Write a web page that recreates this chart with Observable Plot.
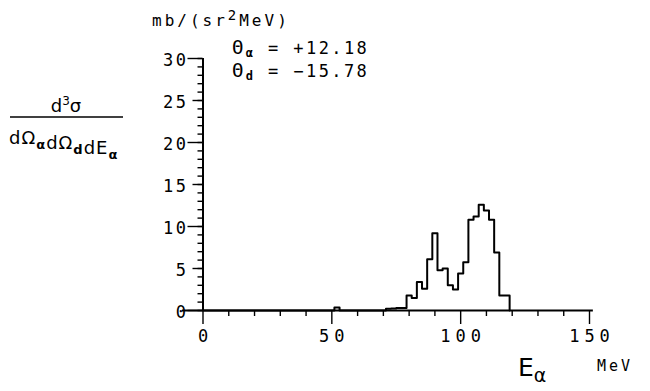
<!DOCTYPE html>
<html><head><meta charset="utf-8">
<script src="https://cdn.jsdelivr.net/npm/d3@7"></script>
<script src="https://cdn.jsdelivr.net/npm/@observablehq/plot@0.6"></script>
<style>body{margin:0;background:#fff} svg{display:block}</style>
</head><body><div id="chart"></div>
<script>
// Histogram: lower bin edges (MeV) and cross sections (mb/(sr^2 MeV))
const binLo  = [0, 51, 53, 71, 73, 75, 77, 79, 81, 83, 85, 87, 89, 91, 93, 95, 97, 99, 101, 103, 105, 107, 109, 111, 113, 115, 117, 119];
const counts = [0, 0.35, 0, 0.2, 0.25, 0.3, 0.3, 1.8, 1.5, 3.4, 2.6, 6.1, 9.2, 4.8, 5.0, 3.0, 2.5, 4.4, 5.75, 10.8, 11.2, 12.6, 11.9, 10.8, 6.9, 1.8, 1.8, 0];

const xLabels = [0, 50, 100, 150];
const xMinor  = [10, 20, 30, 40, 60, 70, 80, 90, 110, 120, 130, 140];
const yLabels = [0, 5, 10, 15, 20, 25, 30];
const yMajor  = [0, 10, 20, 30];
const yMid    = [5, 15, 25];
const yMinor  = d3.range(0, 31, 1);
const xAxisExtent = [-8, 151.5];

const pts = binLo.map((e, i) => ({e, v: counts[i]}));

const chart = Plot.plot({
  width: 650, height: 391,
  marginTop: 58, marginBottom: 81, marginLeft: 202.5, marginRight: 61,
  x: {domain: [0, 150], axis: null},
  y: {domain: [0, 30], axis: null},
  style: {fontFamily: "'DejaVu Sans Mono', monospace", fontSize: "15px", color: "#000", background: "#fff"},
  marks: [
    Plot.axisY(yMinor, {tickSize: 5, text: null, label: null, strokeWidth: 1.4}),
    Plot.axisY(yMid, {tickSize: 10, text: null, label: null, strokeWidth: 1.4}),
    Plot.axisY(yMajor, {tickSize: 15, text: null, label: null, strokeWidth: 1.4}),
    Plot.axisY(yLabels, {tickSize: 0, tickPadding: 17, label: null, fontSize: 17}),
    Plot.axisX(xMinor, {tickSize: 6, text: null, label: null, strokeWidth: 1.4}),
    Plot.axisX(xLabels, {tickSize: 14, text: null, label: null, strokeWidth: 1.4}),
    Plot.axisX(xLabels, {tickSize: 0, tickPadding: 19, label: null, fontSize: 17}),
    Plot.ruleX([0], {strokeWidth: 2}),
    Plot.ruleY([0], {x1: xAxisExtent[0], x2: xAxisExtent[1], strokeWidth: 2}),
    Plot.line(pts, {x: "e", y: "v", curve: "step-after", stroke: "#000", strokeWidth: 2})
  ]
});
document.getElementById("chart").append(chart);

const svg = d3.select(chart);
svg.selectAll("[aria-label='x-axis tick label'] text").attr("letter-spacing", 5).attr("dx", 2.5);
svg.selectAll("[aria-label='y-axis tick label'] text").attr("letter-spacing", 2.5).attr("dx", 2.5).attr("dy", "0.1em");

const mono = "'DejaVu Sans Mono', monospace";
const sans = "'DejaVu Sans', sans-serif";
const T = () => svg.append("text").attr("text-anchor", "start");

// unit label
const u = T().attr("x", 152).attr("y", 26).attr("font-family", mono).attr("font-size", 16).attr("letter-spacing", 3);
u.append("tspan").text("mb/(sr");
u.append("tspan").attr("dy", -6).attr("font-size", 14).text("2");
u.append("tspan").attr("dy", 6).text("MeV)");

// angles
function angle(y, sub, val) {
  const t = T().attr("x", 232).attr("y", y).attr("font-family", mono).attr("font-size", 17).attr("letter-spacing", 2.4);
  t.append("tspan").attr("font-size", 19).text("Θ");
  t.append("tspan").attr("dy", 3).attr("font-size", 12).attr("font-weight", "bold").text(sub);
  t.append("tspan").attr("dy", -3).text(" = " + val);
}
angle(54, "α", "+12.18");
angle(77, "d", "−15.78");

// y-axis quantity (fraction)
const num = svg.append("text").attr("x", 66).attr("y", 112).attr("text-anchor", "middle").attr("font-family", sans).attr("font-size", 18);
num.append("tspan").text("d");
num.append("tspan").attr("dy", -7).attr("font-size", 12).text("3");
num.append("tspan").attr("dy", 7).text("σ");
svg.append("line").attr("x1", 10).attr("x2", 123).attr("y1", 117).attr("y2", 117).attr("stroke", "#000").attr("stroke-width", 1.6);
const den = T().attr("x", 9).attr("y", 144).attr("font-family", sans).attr("font-size", 18).attr("letter-spacing", 1);
[["dΩ", "α"], ["dΩ", "d"], ["dE", "α"]].forEach(([a, b]) => {
  den.append("tspan").text(a);
  den.append("tspan").attr("dy", 5).attr("font-size", 13).attr("font-weight", "bold").text(b);
  den.append("tspan").attr("dy", -5).text("");
});

// x-axis quantity
const ex = T().attr("x", 518).attr("y", 376).attr("font-family", sans).attr("font-size", 25);
ex.append("tspan").text("E");
ex.append("tspan").attr("dy", 6).attr("font-size", 19).text("α");
T().attr("x", 597).attr("y", 371).attr("font-family", mono).attr("font-size", 15).attr("letter-spacing", 3).text("MeV");
</script>
</body></html>
